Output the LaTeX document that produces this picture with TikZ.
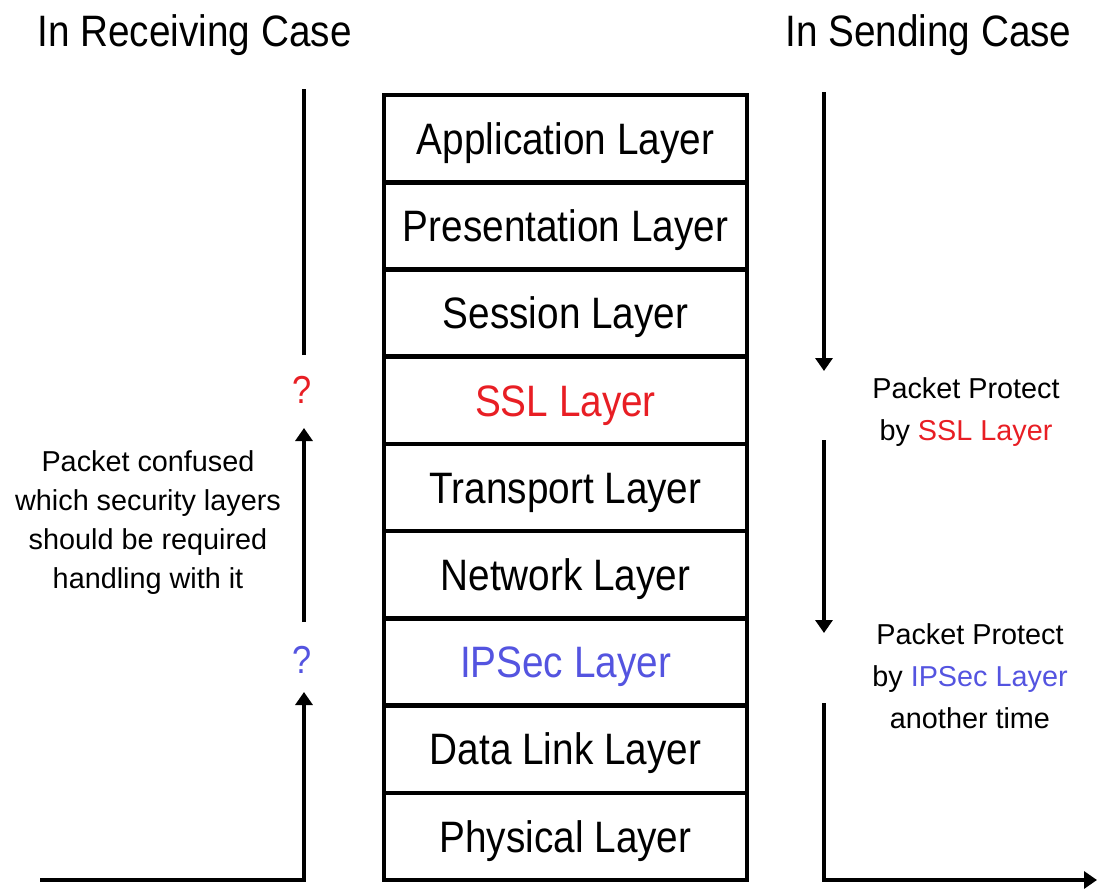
\documentclass[tikz,border=0pt]{standalone}
\usepackage{fontspec}
\setmainfont{Liberation Sans}
\newfontfamily\layerfont[FakeStretch=0.88]{Liberation Sans}
\usetikzlibrary{arrows.meta}
\definecolor{sslred}{RGB}{232,30,36}
\definecolor{ipsecblue}{RGB}{84,84,224}
\begin{document}
\begin{tikzpicture}[x=0.5pt,y=-0.5pt,
  layerbox/.style={draw, line width=2.3pt, minimum width=181.5pt,
    minimum height=43.6pt, inner sep=0pt,
    font=\layerfont\fontsize{22}{26}\selectfont,
    text height=15.75pt, text depth=0pt},
  flow/.style={line width=2.2pt},
  flowarrow/.style={flow, -{Triangle[width=8.5pt,length=6.5pt]}},
  heading/.style={font=\layerfont\fontsize{22}{26}\selectfont, inner sep=0pt},
  note/.style={font=\fontsize{14.4}{#1}\selectfont, align=center,
    anchor=base, inner sep=0pt},
  query/.style={font=\layerfont\fontsize{19.5}{22}\selectfont, anchor=base,
    inner sep=0pt},
]
\useasboundingbox (0,0) rectangle (1100,890);

% headings
\node[heading, anchor=base west] (recv) at (37,46) {In Receiving Case};
\node[heading, anchor=base east] (send) at (1072,46) {In Sending Case};

% protocol stack
\node[layerbox] (app)  at (565.5,138.6) {Application Layer};
\node[layerbox] (pres) at (565.5,225.8) {Presentation Layer};
\node[layerbox] (sess) at (565.5,313.1) {Session Layer};
\node[layerbox, text=sslred] (ssl) at (565.5,400.3) {SSL Layer};
\node[layerbox] (trans) at (565.5,487.5) {Transport Layer};
\node[layerbox] (net)  at (565.5,574.7) {Network Layer};
\node[layerbox, text=ipsecblue] (ipsec) at (565.5,661.9) {IPSec Layer};
\node[layerbox] (dll)  at (565.5,749.2) {Data Link Layer};
\node[layerbox] (phy)  at (565.5,836.4) {Physical Layer};

% receiving side (base anchor sits on the last line of a note)
\node[query, text=sslred] (q1) at (302,403) {?};
\node[query, text=ipsecblue] (q2) at (302,673) {?};
\node[note=19.5pt] (confused) at (148,588)
  {Packet confused\\which security layers\\should be required\\handling with it};

\coordinate (rin) at (40,880);
\coordinate (rturn) at (304,880);
\coordinate (rtip1) at (304,692);
\coordinate (rmid1) at (304,622);
\coordinate (rtip2) at (304,428);
\coordinate (rtop1) at (304,355);
\coordinate (rtop2) at (304,89);
\draw[flowarrow] (rin) -- (rturn) -- (rtip1);
\draw[flowarrow] (rmid1) -- (rtip2);
\draw[flow] (rtop1) -- (rtop2);

% sending side
\node[note=21pt] (protssl) at (966,440)
  {Packet Protect\\by \textcolor{sslred}{SSL Layer}};
\node[note=21pt] (protipsec) at (970,728)
  {Packet Protect\\by \textcolor{ipsecblue}{IPSec Layer}\\another time};

\coordinate (s0) at (824,92);
\coordinate (s1) at (824,371);
\coordinate (s2) at (824,440);
\coordinate (s3) at (824,633);
\coordinate (s4) at (824,703);
\coordinate (sturn) at (824,880);
\coordinate (sout) at (1097,880);
\draw[flowarrow] (s0) -- (s1);
\draw[flowarrow] (s2) -- (s3);
\draw[flowarrow] (s4) -- (sturn) -- (sout);
\end{tikzpicture}
\end{document}
